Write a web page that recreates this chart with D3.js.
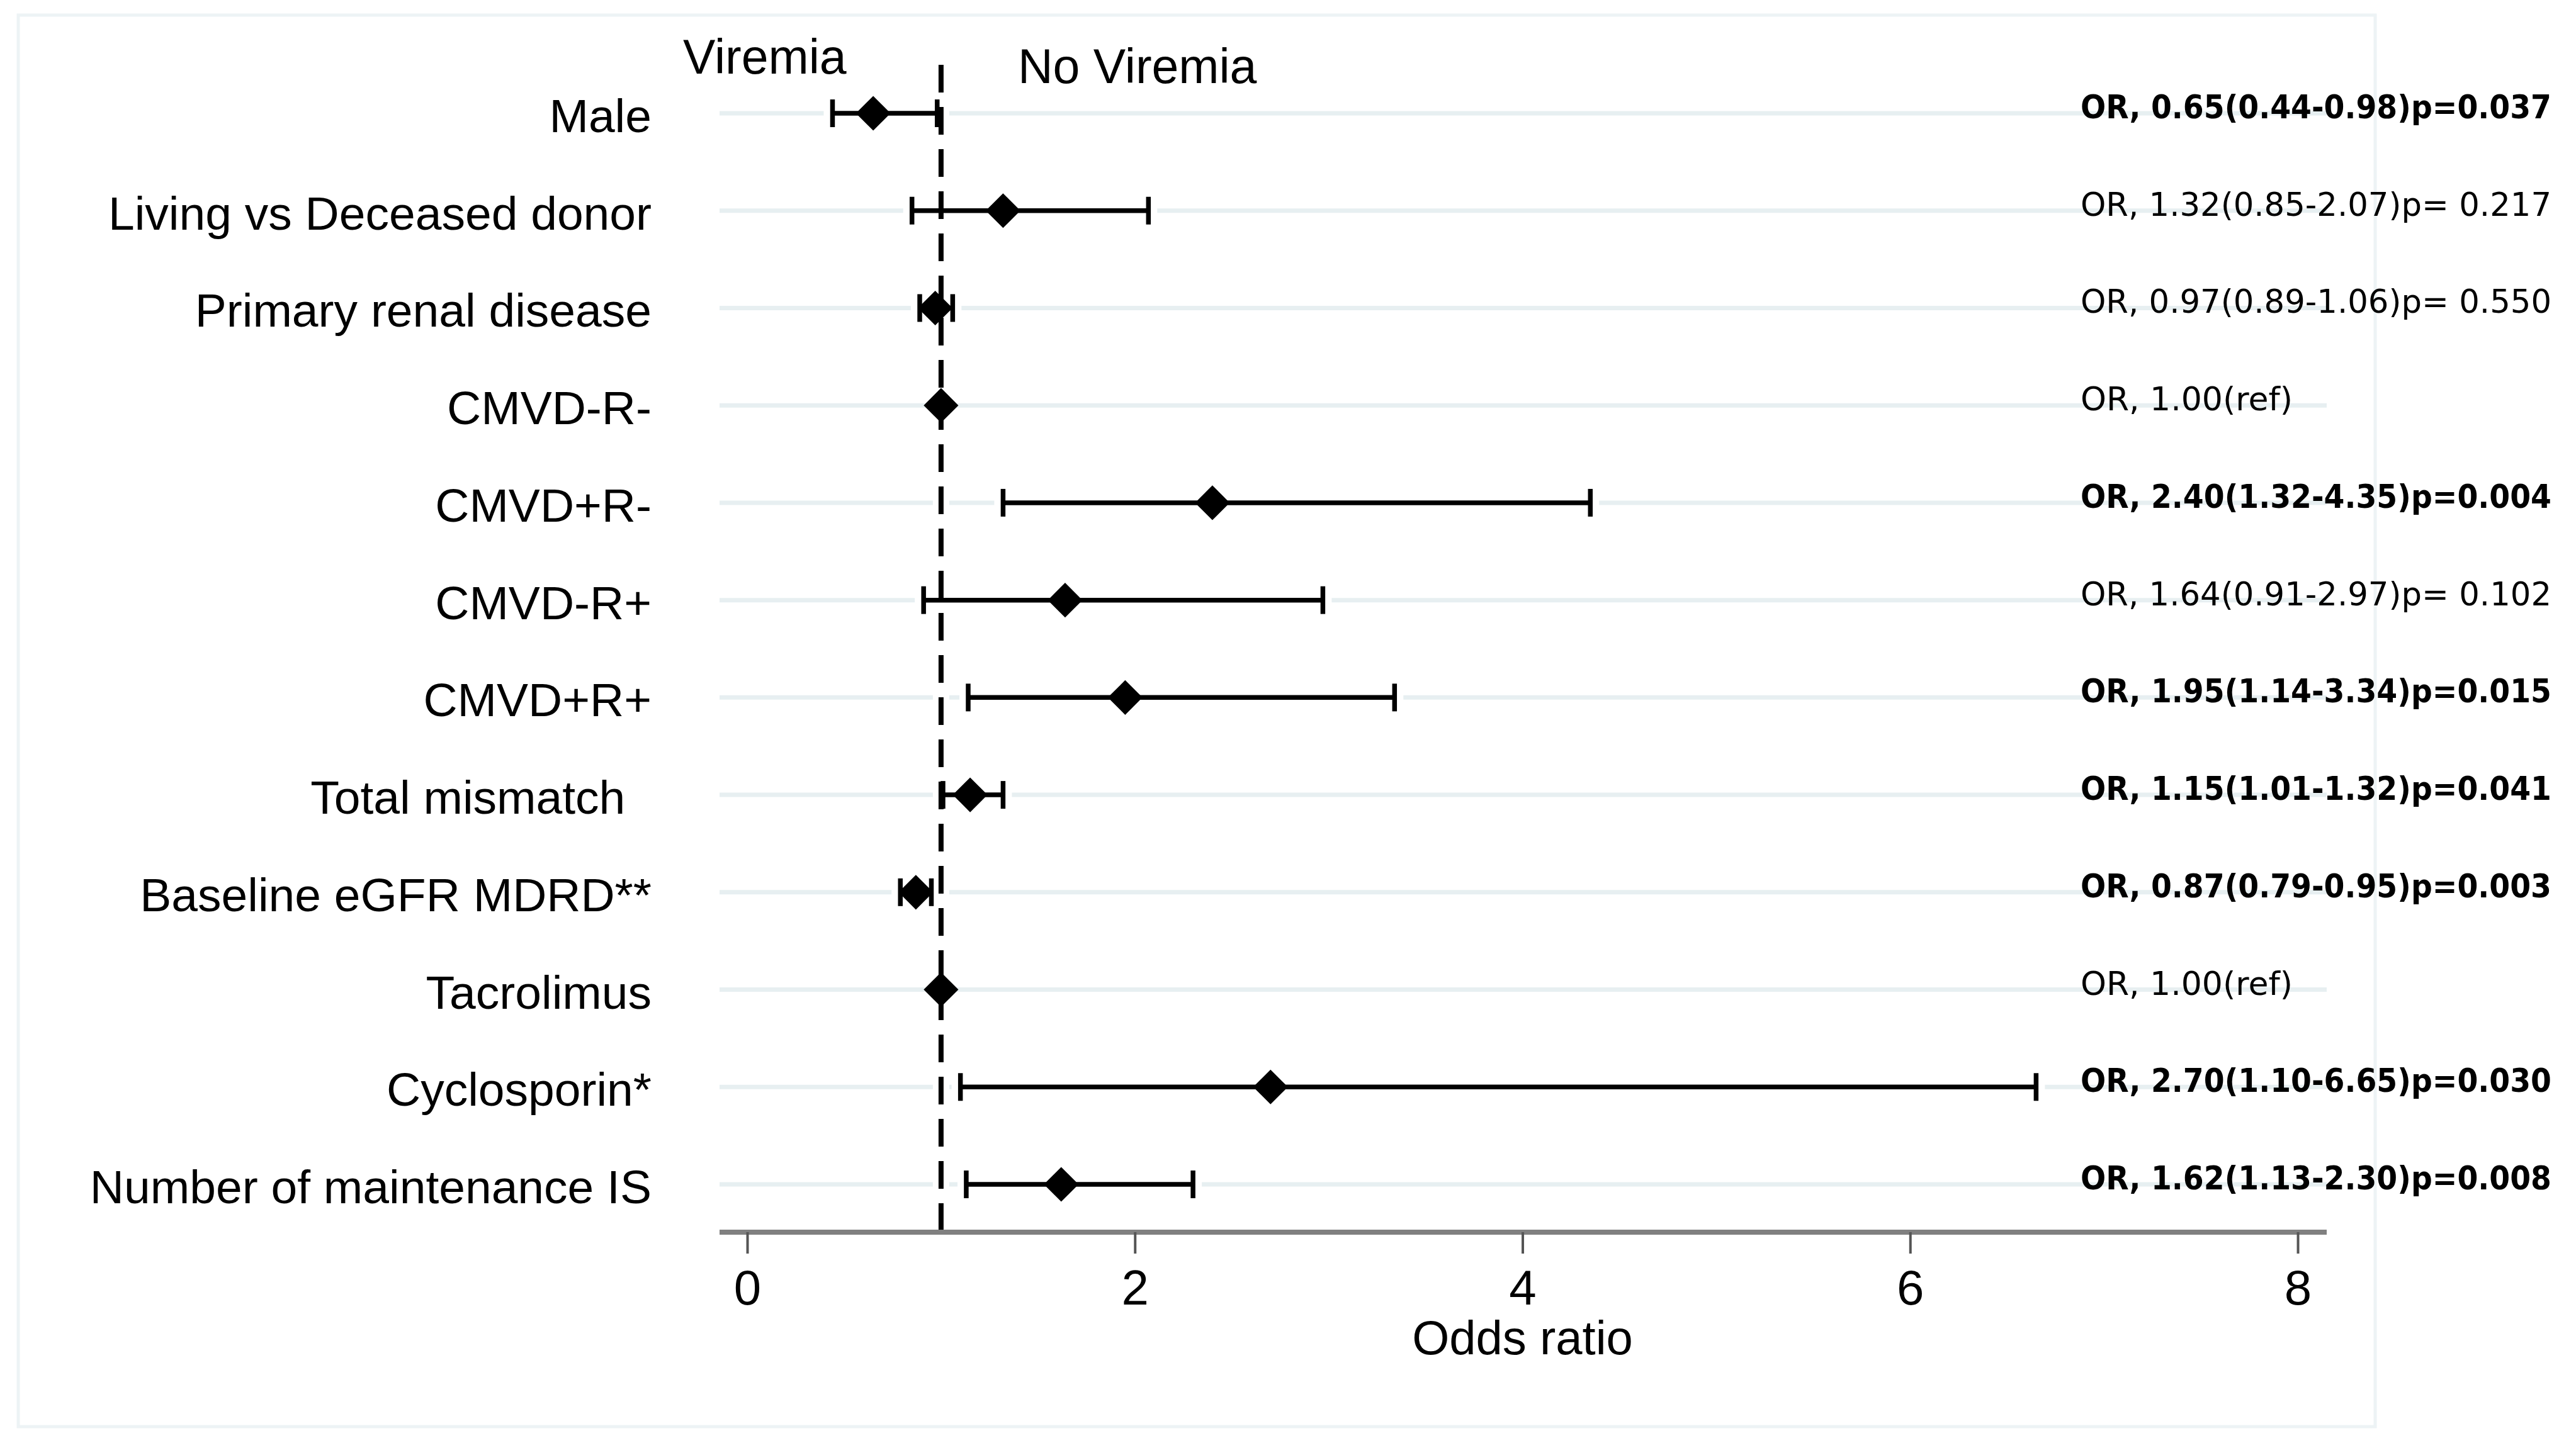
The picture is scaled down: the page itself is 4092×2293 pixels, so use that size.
<!DOCTYPE html>
<html>
<head>
<meta charset="utf-8">
<script src="https://cdn.jsdelivr.net/npm/d3@7"></script>
<style>
  html, body { margin: 0; padding: 0; background: #ffffff; }
  svg { display: block; }
  .lbl { font-family: "Liberation Sans", Arial, sans-serif; white-space: pre; fill: #000; }
  .ann { font-family: "DejaVu Sans", Verdana, sans-serif; white-space: pre; fill: #000; }
</style>
</head>
<body>
<script>
// ---------------- data ----------------
const categories = ["Male", "Living vs Deceased donor", "Primary renal disease", "CMVD-R-", "CMVD+R-",
  "CMVD-R+", "CMVD+R+", "Total mismatch  ", "Baseline eGFR MDRD**", "Tacrolimus", "Cyclosporin*",
  "Number of maintenance IS"];
const orValues = [0.65, 1.32, 0.97, 1.00, 2.40, 1.64, 1.95, 1.15, 0.87, 1.00, 2.70, 1.62];
const ciLower  = [0.44, 0.85, 0.89, null, 1.32, 0.91, 1.14, 1.01, 0.79, null, 1.10, 1.13];
const ciUpper  = [0.98, 2.07, 1.06, null, 4.35, 2.97, 3.34, 1.32, 0.95, null, 6.65, 2.30];
const pValues  = ["0.037", "0.217", "0.550", null, "0.004", "0.102", "0.015", "0.041", "0.003", null, "0.030", "0.008"];
const significant = [true, false, false, false, true, false, true, true, true, false, true, true];
const xTicks = [0, 2, 4, 6, 8];
const refValue = 1;
const sideLabels = ["Viremia", "No Viremia"];
const xTitle = "Odds ratio";

// ---------------- layout ----------------
const W = 4092, H = 2293;
const plotL = 1143, plotR = 3696, axisY = 1958;

const svg = d3.select("body").append("svg").attr("width", W).attr("height", H);
svg.append("rect").attr("width", W).attr("height", H).attr("fill", "#fff");

// outer frame
svg.append("rect").attr("x", 29).attr("y", 24).attr("width", 3773 - 29).attr("height", 2267 - 24)
  .attr("fill", "none").attr("stroke", "#edf3f5").attr("stroke-width", 5);

const x = d3.scaleLinear().domain([0, 8]).range([1187, 3650]);
const y = d3.scalePoint().domain(categories).range([180, 1882]);

const rows = categories.map((c, i) => ({
  cat: c, or: orValues[i], lo: ciLower[i], hi: ciUpper[i], p: pValues[i], sig: significant[i]
}));

// gridlines per row
svg.append("g").selectAll("line").data(rows).join("line")
  .attr("x1", plotL).attr("x2", plotR)
  .attr("y1", d => y(d.cat)).attr("y2", d => y(d.cat))
  .attr("stroke", "#e7eff1").attr("stroke-width", 7);

// white halos
const halo = svg.append("g").attr("stroke", "#fff");
halo.append("line").attr("x1", x(refValue)).attr("x2", x(refValue)).attr("y1", 103).attr("y2", axisY)
  .attr("stroke-width", 26);
const ciRows = rows.filter(d => d.lo != null);
halo.selectAll("line.h").data(ciRows).join("line").attr("class", "h")
  .attr("x1", d => x(d.lo) - 14).attr("x2", d => x(d.hi) + 14)
  .attr("y1", d => y(d.cat)).attr("y2", d => y(d.cat)).attr("stroke-width", 20);

// dashed reference line
svg.append("line").attr("x1", x(refValue)).attr("x2", x(refValue)).attr("y1", 103).attr("y2", axisY)
  .attr("stroke", "#000").attr("stroke-width", 8).attr("stroke-dasharray", "44 23");

// x axis
svg.append("line").attr("x1", plotL).attr("x2", plotR).attr("y1", axisY).attr("y2", axisY)
  .attr("stroke", "#808080").attr("stroke-width", 8);
const axis = svg.append("g").attr("transform", `translate(0,${axisY})`)
  .call(d3.axisBottom(x).tickValues(xTicks).tickSize(34).tickPadding(26).tickFormat(d3.format("d")));
axis.select(".domain").remove();
axis.selectAll(".tick line").attr("stroke", "#555").attr("stroke-width", 4);
axis.selectAll(".tick text").attr("class", "lbl").attr("font-size", 78).attr("fill", "#000");

svg.append("text").attr("class", "lbl").attr("x", x(4)).attr("y", 2152).attr("text-anchor", "middle")
  .attr("font-size", 76).text(xTitle);

// CI lines and caps
const ci = svg.append("g").attr("stroke", "#000").attr("stroke-width", 7.5);
ci.selectAll("line.ci").data(ciRows).join("line").attr("class", "ci")
  .attr("x1", d => x(d.lo)).attr("x2", d => x(d.hi))
  .attr("y1", d => y(d.cat)).attr("y2", d => y(d.cat));
ci.selectAll("line.capL").data(ciRows).join("line").attr("class", "capL")
  .attr("x1", d => x(d.lo)).attr("x2", d => x(d.lo))
  .attr("y1", d => y(d.cat) - 22).attr("y2", d => y(d.cat) + 22);
ci.selectAll("line.capR").data(ciRows).join("line").attr("class", "capR")
  .attr("x1", d => x(d.hi)).attr("x2", d => x(d.hi))
  .attr("y1", d => y(d.cat) - 22).attr("y2", d => y(d.cat) + 22);

// diamonds
const sym = d3.symbol().type(d3.symbolSquare).size(39 * 39);
svg.append("g").selectAll("path").data(rows).join("path")
  .attr("d", sym)
  .attr("transform", d => `translate(${x(d.or)},${y(d.cat)}) rotate(45)`)
  .attr("fill", "#000");

// row labels
svg.append("g").selectAll("text").data(rows).join("text")
  .attr("class", "lbl").attr("x", 1035).attr("y", d => y(d.cat) + 30)
  .attr("text-anchor", "end").attr("font-size", 75).text(d => d.cat);

// annotations
const ann = svg.append("g").selectAll("text").data(rows).join("text")
  .attr("class", "ann").attr("x", 3305).attr("y", d => y(d.cat) + 8)
  .attr("font-size", 52)
  .attr("font-weight", d => d.sig ? "bold" : "normal")
  .text(d => d.lo == null ? `OR, ${d.or.toFixed(2)}(ref)`
    : `OR, ${d.or.toFixed(2)}(${d.lo.toFixed(2)}-${d.hi.toFixed(2)})p=${d.sig ? "" : " "}${d.p}`);
ann.filter(d => d.lo != null)
  .attr("textLength", 748).attr("lengthAdjust", "spacingAndGlyphs");

// side labels
svg.append("text").attr("class", "lbl").attr("x", 1085).attr("y", 117).attr("font-size", 77).text(sideLabels[0]);
svg.append("text").attr("class", "lbl").attr("x", 1617).attr("y", 132).attr("font-size", 77).text(sideLabels[1]);
</script>
</body>
</html>
